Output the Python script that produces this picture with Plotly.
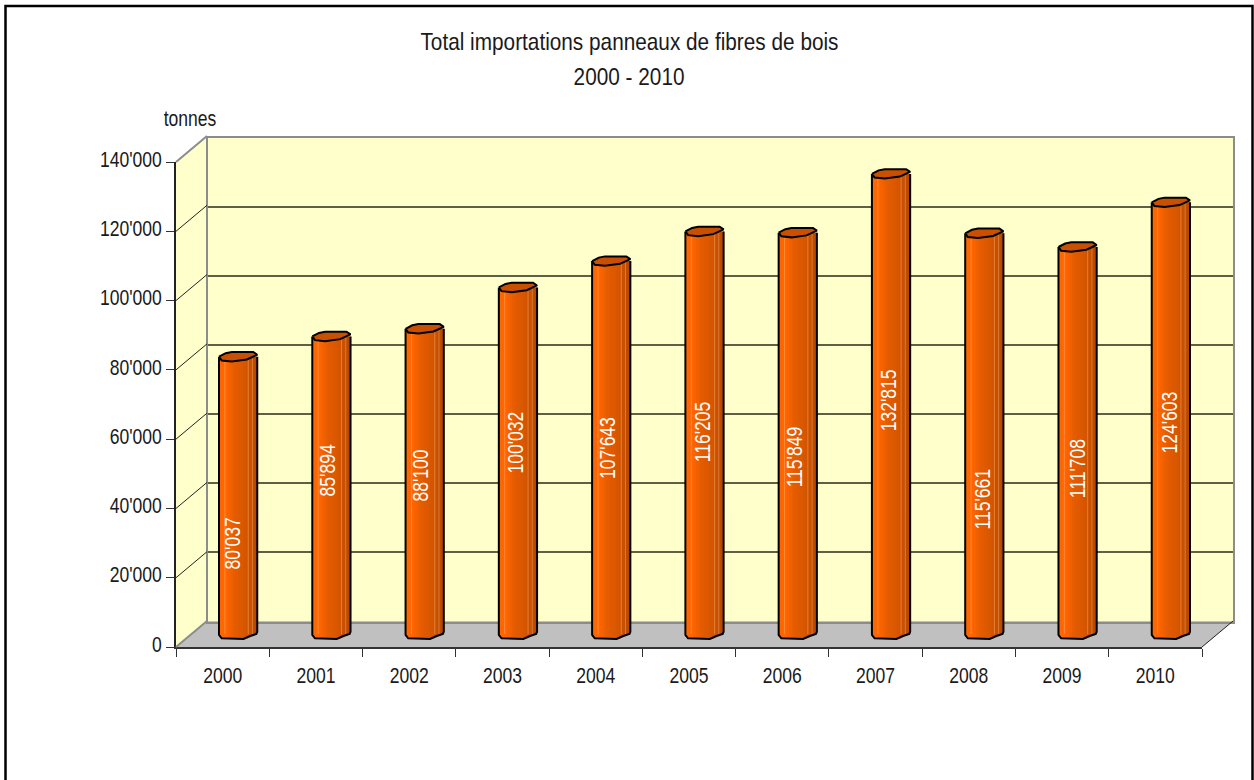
import plotly.graph_objects as go

# ---- data ----
years = ["2000", "2001", "2002", "2003", "2004", "2005", "2006", "2007", "2008", "2009", "2010"]
tonnes = [80037, 85894, 88100, 100032, 107643, 116205, 115849, 132815, 115661, 111708, 124603]
value_labels = ["80'037", "85'894", "88'100", "100'032", "107'643", "116'205", "115'849", "132'815", "115'661", "111'708", "124'603"]
y_ticks = [0, 20000, 40000, 60000, 80000, 100000, 120000, 140000]
y_tick_labels = ["0", "20'000", "40'000", "60'000", "80'000", "100'000", "120'000", "140'000"]
# where the source chart placed each rotated label (tonnes, centre of text; sideways shift in categories)
label_heights = [26000, 47050, 45600, 55300, 53800, 58200, 51100, 67500, 39000, 47600, 61050]
label_shifts = [-0.054, -0.047, -0.049, -0.032, -0.043, -0.021, -0.029, -0.032, -0.011, 0, -0.011]

# ---- style / geometry ----
W, H = 1254, 780
FONT = "Liberation Sans, Arial, sans-serif"
FS = 22
FS_TITLE = 24
TXT = "#1a1a1a"
Y0, YT = 647, 162      # front plane: pixel of 0 and of 140'000
X0, X1 = 176, 1202     # front plane: pixel of left and right edge
DX, DY = 31, 26        # depth of the box
BAR_W = 0.41
K = 140000 / (Y0 - YT)  # tonnes per pixel
FLOOR_PAD = 4000        # room below 0 on the bar plane for the rounded cylinder foot
STRIPS = ["#ff6800", "#ff6600", "#ff6600", "#f86300", "#ee6000", "#e65d00", "#e25b00", "#de5900",
          "#da5800", "#d65600", "#d15400", "#c85000", "#bf4d00", "#b64900"]
SEAMS = [0.14, 0.75, 0.86]
CAP = [(-1, 0), (-0.65, -3.5), (-0.33, -4.7), (0.79, -4.7), (1, -2), (0.46, 2.7), (-0.33, 4.7), (-0.86, 3.7), (-1, 0)]
BOTTOM = [(-1, 1), (-0.86, 4.3), (0.28, 5), (0.63, 2), (0.95, 0), (1, -2.3)]


def bottom_dy(t):
    for (a, da), (b, db) in zip(BOTTOM, BOTTOM[1:]):
        if a <= t <= b:
            return da + (db - da) * (t - a) / (b - a)
    return 0


def dom(a, b, size, flip=False):
    return [(size - b) / size, (size - a) / size] if flip else [a / size, b / size]


fig = go.Figure()

# hidden trace so that the back plane exists as a subplot
fig.add_trace(go.Scatter(x=[0], y=[0], xaxis="x", yaxis="y", mode="markers", marker=dict(opacity=0), hoverinfo="skip", showlegend=False))

# cylinders: bars split in shaded vertical strips, on the mid-depth plane
n = len(STRIPS)
idx = list(range(len(years)))
for j, col in enumerate(STRIPS):
    t = -1 + (2 * j + 1) / n
    base = -bottom_dy(t) * K
    fig.add_trace(go.Bar(
        x=idx, y=[v - base for v in tonnes], base=base,
        width=BAR_W / n * (1.5 if j < n - 1 else 1), offset=-BAR_W / 2 + j * BAR_W / n,
        marker=dict(color=col, line=dict(width=0)),
        xaxis="x2", yaxis="y2", showlegend=False, hoverinfo="skip",
    ))
for f in SEAMS:
    fig.add_trace(go.Bar(
        x=idx, y=tonnes, width=0.011, offset=-BAR_W / 2 + f * BAR_W,
        marker=dict(color="rgba(255,190,130,0.4)", line=dict(width=0)),
        xaxis="x2", yaxis="y2", showlegend=False, hoverinfo="skip",
    ))

# cylinder outlines and caps derived from the values
ox, oy, cx, cy = [], [], [], []
for i, v in enumerate(tonnes):
    ox += [i - BAR_W / 2] + [i + t * BAR_W / 2 for t, _ in BOTTOM] + [i + BAR_W / 2, None]
    oy += [v] + [-d * K for _, d in BOTTOM] + [v, None]
    cx += [i + t * BAR_W / 2 for t, _ in CAP] + [None]
    cy += [v - d * K for _, d in CAP] + [None]
fig.add_trace(go.Scatter(x=ox, y=oy, xaxis="x2", yaxis="y2", mode="lines", line=dict(color="black", width=2),
                         showlegend=False, hoverinfo="skip"))
fig.add_trace(go.Scatter(x=cx, y=cy, xaxis="x2", yaxis="y2", mode="lines", fill="toself", fillcolor="#c85000",
                         line=dict(color="black", width=2), showlegend=False, hoverinfo="skip"))

# front axes
fig.add_trace(go.Scatter(x=years, y=[0] * len(years), xaxis="x3", yaxis="y3", mode="markers", marker=dict(opacity=0), hoverinfo="skip", showlegend=False))

tick_font = dict(family=FONT, size=FS, color=TXT)
fig.update_layout(
    width=W, height=H, margin=dict(l=0, r=0, t=0, b=0, autoexpand=False), paper_bgcolor="white", plot_bgcolor="rgba(0,0,0,0)",
    barmode="overlay", showlegend=False, hovermode=False,
    # back wall
    xaxis=dict(domain=dom(X0 + DX + 1, X1 + DX, W), range=[0, 1], showgrid=False, zeroline=False, showticklabels=False, ticks="",
               showline=True, mirror=True, linecolor="#8c8c8c", linewidth=2, anchor="y", fixedrange=True),
    yaxis=dict(domain=dom(YT - DY + 1.5, Y0 - DY + 0.5, H, True), range=[0, 140000], tickvals=y_ticks[1:-1], showgrid=True, gridcolor="#5f5f45",
               gridwidth=1.5, zeroline=False, showticklabels=False, ticks="", showline=True, mirror=True, linecolor="#8c8c8c",
               linewidth=2, anchor="x", fixedrange=True),
    # mid plane (bars)
    xaxis2=dict(domain=dom(X0 + 15.5, X1 + 15.5, W), range=[-0.5, 10.5], visible=False, anchor="y2", fixedrange=True),
    yaxis2=dict(domain=dom(YT - 13, Y0 - 13 + FLOOR_PAD / K, H, True), range=[-FLOOR_PAD, 140000], visible=False, anchor="x2", fixedrange=True),
    # front plane (axes)
    xaxis3=dict(domain=dom(X0, X1, W), type="category", categoryorder="array", categoryarray=years, tickson="boundaries",
                range=[-0.5, 10.5], ticks="outside", ticklen=8, tickcolor="#333333", tickwidth=1, showgrid=False, zeroline=False,
                showline=True, linecolor="#333333", linewidth=1.5, tickfont=tick_font, ticklabelstandoff=8, anchor="y3", fixedrange=True),
    yaxis3=dict(domain=dom(YT, Y0, H, True), range=[0, 140000], tickvals=y_ticks, ticktext=y_tick_labels, ticks="outside", ticklen=8,
                tickcolor="#333333", tickwidth=1, showgrid=False, zeroline=False, showline=True, linecolor="#222222", linewidth=1.5,
                tickfont=tick_font, anchor="x3", fixedrange=True),
)


def px(x):
    return x / W


def py(y):
    return (H - y) / H


def poly(pts, **kw):
    d = "M " + " L ".join(f"{px(a):.5f},{py(b):.5f}" for a, b in pts) + " Z"
    return dict(type="path", path=d, xref="paper", yref="paper", layer="below", **kw)


shapes = [
    # page frame
    dict(type="rect", xref="paper", yref="paper", x0=px(5.5), x1=px(1252.5), y0=py(6), y1=py(790),
         line=dict(color="black", width=2.5), fillcolor="rgba(0,0,0,0)", layer="below"),
    # back wall, left wall, floor
    poly([(X0 + DX, YT - DY), (X1 + DX, YT - DY), (X1 + DX, Y0 - DY), (X0 + DX, Y0 - DY)], fillcolor="#ffffcc", line=dict(width=0)),
    poly([(X0, YT), (X0 + DX, YT - DY), (X0 + DX, Y0 - DY), (X0, Y0)], fillcolor="#ffffcc", line=dict(width=0)),
    poly([(X0, Y0), (X0 + DX, Y0 - DY), (X1 + DX, Y0 - DY), (X1, Y0)], fillcolor="#c0c0c0", line=dict(width=0)),
]
for tv in y_ticks:
    yy = Y0 - tv / K
    gray = tv in (0, 140000)
    shapes.append(dict(type="line", xref="paper", yref="paper", x0=px(X0), y0=py(yy), x1=px(X0 + DX), y1=py(yy - DY),
                       line=dict(color="#8c8c8c" if gray else "#222222", width=2 if gray else 1)))
shapes.append(dict(type="line", xref="paper", yref="paper", x0=px(X1), y0=py(Y0), x1=px(X1 + DX), y1=py(Y0 - DY),
                   line=dict(color="#222222", width=1)))
fig.update_layout(shapes=shapes)

ann = [
    dict(text="Total importations panneaux de fibres de bois", x=px(629), y=py(41), xref="paper", yref="paper", showarrow=False,
         xanchor="center", yanchor="middle", font=dict(family=FONT, size=FS_TITLE, color=TXT)),
    dict(text="2000 - 2010", x=px(629), y=py(77), xref="paper", yref="paper", showarrow=False,
         xanchor="center", yanchor="middle", font=dict(family=FONT, size=FS_TITLE, color=TXT)),
    dict(text="tonnes", x=px(190), y=py(118), xref="paper", yref="paper", showarrow=False,
         xanchor="center", yanchor="middle", font=dict(family=FONT, size=FS, color=TXT)),
]
for i, (lab, h, s) in enumerate(zip(value_labels, label_heights, label_shifts)):
    ann.append(dict(text=lab, x=i + s, y=h, xref="x2", yref="y2", textangle=-90, showarrow=False,
                    xanchor="center", yanchor="middle", font=dict(family=FONT, size=FS, color="white")))
fig.update_layout(annotations=ann)

# the source text is a horizontally squeezed Arial: narrow each real text element in place;
# its value-axis labels also sit a little above their ticks
squeeze = """
document.body.style.margin='0';document.body.style.overflow='hidden';
document.querySelectorAll('svg text').forEach(function(t){
  var b=t.getBBox(); if(!b.width) return;
  var fs=parseFloat(t.style.fontSize)||22, sx=fs>=24?0.866:0.797;
  var a=t.getAttribute('text-anchor')||t.style.textAnchor;
  var c=a==='end'?b.x+b.width:(a==='start'?b.x:b.x+b.width/2);
  var dy=a==='end'?-3:0;
  var old=t.getAttribute('transform')||'';
  t.setAttribute('transform',old+' translate('+c+','+dy+') scale('+sx+',1) translate('+(-c)+',0)');
});
"""
fig.write_html("out.html", config={"displayModeBar": False}, post_script=squeeze)
